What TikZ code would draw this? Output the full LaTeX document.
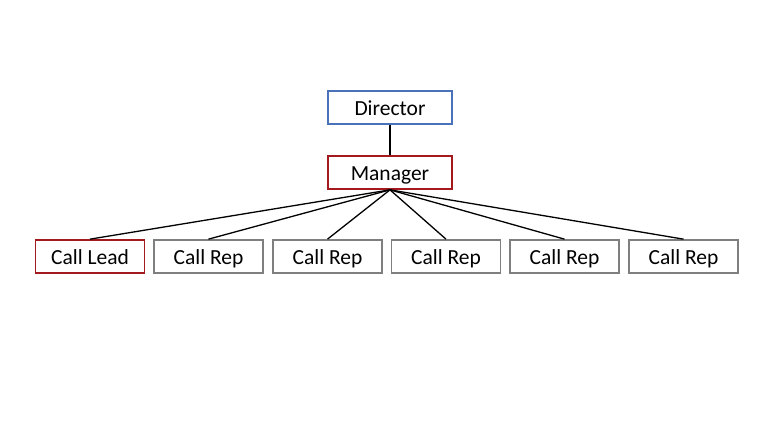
\documentclass[tikz,border=0pt]{standalone}
\usepackage{fontspec}
\setmainfont{Carlito}
\definecolor{dirblue}{HTML}{4A72B8}
\definecolor{mgrred}{HTML}{A4191E}
\definecolor{repgray}{HTML}{7F7F7F}
\begin{document}
\begin{tikzpicture}[x=1pt,y=-1pt,
  box/.style={draw,line width=1.7pt,minimum height=33pt,inner sep=0pt,text height=15pt,text depth=0pt,font=\fontsize{21.5}{25}\selectfont,fill=white},
  big/.style={box,minimum width=124pt},
  small/.style={box,minimum width=109pt},
  link/.style={line width=1.3pt,black}]
\useasboundingbox (0,0) rectangle (780,440);
\node[big,draw=dirblue] (dir) at (390,107.5) {Director};
\node[big,draw=mgrred] (mgr) at (390,172.5) {Manager};
\node[small,draw=mgrred] (lead) at (90,256.5) {Call Lead};
\node[small,draw=repgray] (r1) at (208.5,256.5) {Call Rep};
\node[small,draw=repgray] (r2) at (327.5,256.5) {Call Rep};
\node[small,draw=repgray] (r3) at (446,256.5) {Call Rep};
\node[small,draw=repgray] (r4) at (564.5,256.5) {Call Rep};
\node[small,draw=repgray] (r5) at (683.5,256.5) {Call Rep};
\draw[link] (dir.south) -- (mgr.north);
\foreach \n in {lead,r1,r2,r3,r4,r5}{\draw[link] (mgr.south) -- (\n.north);}
\end{tikzpicture}
\end{document}
